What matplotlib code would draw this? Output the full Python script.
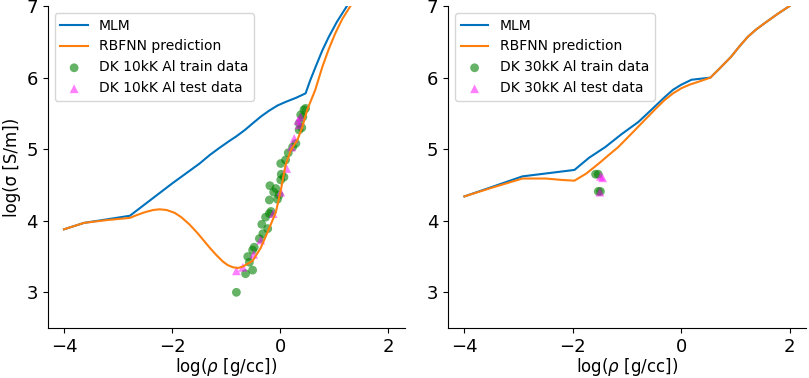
import numpy as np
import matplotlib
matplotlib.use("Agg")
import matplotlib.pyplot as plt

# left panel, 10kK
mlm10_x = [-4.0, -3.63, -3.2, -2.78, -2.0, -1.49, -1.3, -1.12, -0.95, -0.81, -0.65,
           -0.51, -0.35, -0.20, -0.05, 0.10, 0.30, 0.47,
           0.55, 0.655, 0.78, 0.90, 1.05, 1.235]
mlm10_y = [3.88, 3.97, 4.02, 4.07, 4.52, 4.80, 4.92, 5.02, 5.11, 5.18, 5.27,
           5.36, 5.46, 5.54, 5.61, 5.66, 5.72, 5.78,
           5.95, 6.15, 6.38, 6.57, 6.78, 7.0]
rbf10_x = [-4.0, -3.63, -3.2, -2.78, -2.65, -2.5, -2.35, -2.23, -2.1, -1.95, -1.83,
           -1.68, -1.52, -1.30, -1.18, -1.06, -0.97, -0.875, -0.78, -0.69,
           -0.51, -0.36, -0.20, -0.08, 0.01, 0.10, 0.20, 0.32, 0.41, 0.50,
           0.65, 0.78, 0.90, 1.02, 1.15, 1.30]
rbf10_y = [3.88, 3.97, 4.01, 4.04, 4.08, 4.12, 4.15, 4.16, 4.15, 4.11, 4.05,
           3.95, 3.82, 3.62, 3.52, 3.43, 3.38, 3.35, 3.34, 3.36,
           3.44, 3.62, 3.90, 4.12, 4.42, 4.78, 4.99, 5.13, 5.31, 5.55,
           5.83, 6.15, 6.40, 6.62, 6.82, 7.0]
train10_x = [-0.81, -0.64, -0.51, -0.57, -0.51, -0.48, -0.385, -0.32, -0.34, -0.23,
             -0.20, -0.17, -0.20, -0.19, -0.08, -0.02, 0.01, 0.07, 0.01, 0.10,
             0.23, 0.29, 0.35, 0.40, 0.38, 0.44, 0.47, 0.35, -0.12, -0.05,
             0.02, 0.15, 0.42, -0.60, -0.27]
train10_y = [3.00, 3.26, 3.31, 3.42, 3.59, 3.63, 3.75, 3.82, 3.95, 3.89,
             4.10, 4.13, 4.29, 4.49, 4.45, 4.36, 4.57, 4.61, 4.80, 4.85,
             5.03, 5.08, 5.27, 5.30, 5.48, 5.55, 5.57, 5.36, 4.40, 4.30,
             4.65, 4.95, 5.45, 3.50, 4.05]
test10_x = [-0.81, -0.69, -0.49, -0.36, -0.13, 0.01, 0.12, 0.21, 0.26, 0.35, 0.38, 0.33]
test10_y = [3.30, 3.35, 3.53, 3.73, 4.10, 4.40, 4.73, 5.03, 5.15, 5.34, 5.45, 5.40]

# right panel, 30kK
mlm30_x = [-4.0, -3.5, -2.93, -1.97, -1.7, -1.40, -1.1, -0.79, -0.55, -0.30, -0.15,
           0.0, 0.19, 0.54, 0.7, 0.92, 1.08, 1.23, 1.38, 1.54, 1.78, 2.0]
mlm30_y = [4.34, 4.47, 4.62, 4.71, 4.88, 5.03, 5.21, 5.38, 5.55, 5.73, 5.83,
           5.90, 5.97, 6.00, 6.12, 6.29, 6.44, 6.57, 6.67, 6.76, 6.89, 7.0]
rbf30_x = [-4.0, -3.5, -2.93, -2.5, -2.2, -1.97, -1.75, -1.52, -1.35, -1.16, -0.9,
           -0.67, -0.45, -0.30, -0.15, 0.0, 0.15, 0.31, 0.54,
           0.7, 0.92, 1.08, 1.23, 1.38, 1.54, 1.78, 2.0]
rbf30_y = [4.34, 4.46, 4.59, 4.59, 4.57, 4.56, 4.66, 4.80, 4.91, 5.03, 5.23,
           5.41, 5.58, 5.69, 5.78, 5.85, 5.90, 5.94, 6.00,
           6.12, 6.29, 6.44, 6.57, 6.67, 6.76, 6.89, 7.0]
train30_x = [-1.58, -1.53, -1.49, -1.53]
train30_y = [4.65, 4.65, 4.41, 4.41]
test30_x = [-1.49, -1.45, -1.50]
test30_y = [4.62, 4.60, 4.40]

blue = '#0072BD'
orange = '#FF7F0E'

fig = plt.figure(figsize=(8.09, 3.78), dpi=100)
ax1 = fig.add_axes([0.059, 0.132, 0.441, 0.852])
ax2 = fig.add_axes([0.554, 0.132, 0.442, 0.852])

panels = [
    (ax1, mlm10_x, mlm10_y, rbf10_x, rbf10_y, train10_x, train10_y, test10_x, test10_y, '10kK'),
    (ax2, mlm30_x, mlm30_y, rbf30_x, rbf30_y, train30_x, train30_y, test30_x, test30_y, '30kK'),
]
for ax, mx, my, rx, ry, trx, try_, tex, tey, temp in panels:
    ax.plot(mx, my, color=blue, lw=1.5, label='MLM')
    ax.plot(rx, ry, color=orange, lw=1.5, label='RBFNN prediction')
    ax.scatter(trx, try_, s=40, color='green', alpha=0.6, edgecolors='none',
               label='DK %s Al train data' % temp)
    ax.scatter(tex, tey, s=40, marker='^', color='magenta', alpha=0.5,
               edgecolors='none', label='DK %s Al test data' % temp)
    ax.set_xlim(-4.3, 2.3)
    ax.set_ylim(2.5, 7)
    ax.set_xticks([-4, -2, 0, 2])
    ax.set_yticks([3, 4, 5, 6, 7])
    ax.tick_params(labelsize=13)
    ax.spines['top'].set_visible(False)
    ax.spines['right'].set_visible(False)
    ax.set_xlabel(r'log($\rho$ [g/cc])', fontsize=12, labelpad=0)
    ax.legend(loc='upper left', fontsize=10, borderaxespad=0.5)

ax1.set_ylabel('log(σ [S/m])', fontsize=12)

fig.savefig('out.png', dpi=100)
